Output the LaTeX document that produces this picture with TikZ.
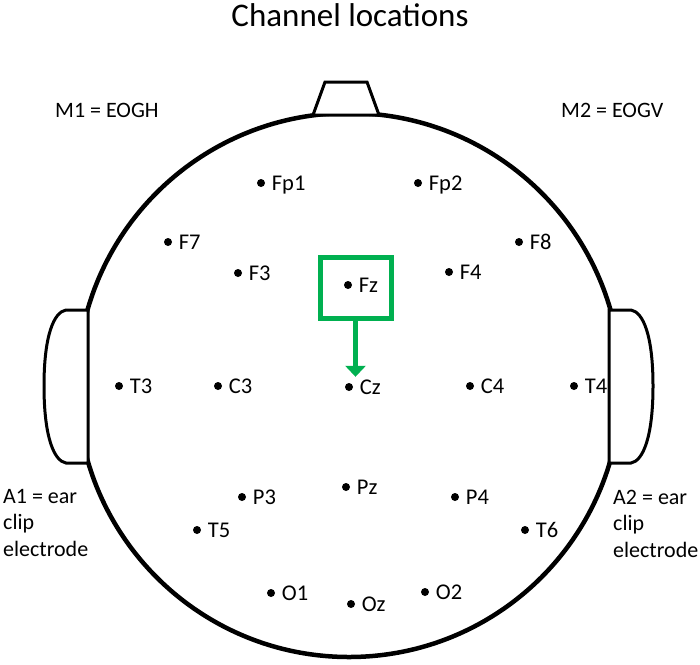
\documentclass[tikz,border=0pt]{standalone}
\usepackage{fontspec}
\setmainfont{Carlito}
\usetikzlibrary{arrows.meta}
\definecolor{boxgreen}{RGB}{0,176,80}

\begin{document}
\begin{tikzpicture}[x=1pt,y=-1pt,
	dot/.style={circle,fill=black,inner sep=0pt,minimum size=8pt},
	lbl/.style={anchor=base west,inner sep=0pt,yshift=-7pt,font=\fontsize{22.5}{26}\selectfont},
	elec/.style={dot,label={[lbl,label distance=6.5pt]east:#1}},
	note/.style={font=\fontsize{22}{26.5}\selectfont,align=left,inner sep=0pt,anchor=base west},
	ear/.style={line width=3pt,fill=white}]
	\useasboundingbox (0,0) rectangle (700,664);
	\node [font=\fontsize{33}{38}\selectfont,anchor=base,inner sep=0pt] (title) at (350,26) {Channel locations};
	% head, nose and ears
	\draw [line width=4.5pt] (349,385) circle (272);
	\draw [line width=3pt,fill=white] (313,115) -- (325,82) -- (367,82) -- (379,115) -- cycle;
	\draw [ear] (88,310) -- (66,310) .. controls (54,312) and (44,335) .. (44,386) .. controls (44,437) and (54,461) .. (66,463) -- (88,463) -- cycle;
	\draw [ear] (609,310) -- (631,310) .. controls (643,312) and (653,335) .. (653,386) .. controls (653,437) and (643,461) .. (631,463) -- (609,463) -- cycle;
	% electrodes
	\node [elec=Fp1] (Fp1) at (261,183) {};
	\node [elec=Fp2] (Fp2) at (418,183) {};
	\node [elec=F7] (F7) at (168,242) {};
	\node [elec=F8] (F8) at (519,242) {};
	\node [elec=F3] (F3) at (238,273) {};
	\node [elec=Fz] (Fz) at (348,285) {};
	\node [elec=F4] (F4) at (449,272) {};
	\node [elec=T3] (T3) at (119,386) {};
	\node [elec=C3] (C3) at (218,386) {};
	\node [elec=Cz] (Cz) at (349,387) {};
	\node [elec=C4] (C4) at (470,386) {};
	\node [elec=T4] (T4) at (574,386) {};
	\node [elec=P3] (P3) at (242,497) {};
	\node [elec=Pz] (Pz) at (346,487) {};
	\node [elec=P4] (P4) at (455,497) {};
	\node [elec=T5] (T5) at (197,530) {};
	\node [elec=T6] (T6) at (525,530) {};
	\node [elec=O1] (O1) at (271,593) {};
	\node [elec=Oz] (Oz) at (351,604) {};
	\node [elec=O2] (O2) at (425,592) {};
	% reference notes
	\node [note] (m1) at (55,117) {M1 = EOGH};
	\node [note] (m2) at (561,117) {M2 = EOGV};
	\node [note] (a1) at (3,556) {A1 = ear\\clip\\electrode};
	\node [note] (a2) at (613,557) {A2 = ear\\clip\\electrode};
	% Fz box and arrow to Cz
	\node [draw=boxgreen,line width=5pt,inner sep=0pt,outer sep=0pt,minimum width=71pt,minimum height=61pt] (fzbox) at (355.5,287.5) {};
	\draw [boxgreen,line width=5pt,-{Triangle[width=20pt,length=11pt]},shorten >=6pt] (fzbox.south) -- (fzbox.south |- Cz.north);
\end{tikzpicture}
\end{document}
